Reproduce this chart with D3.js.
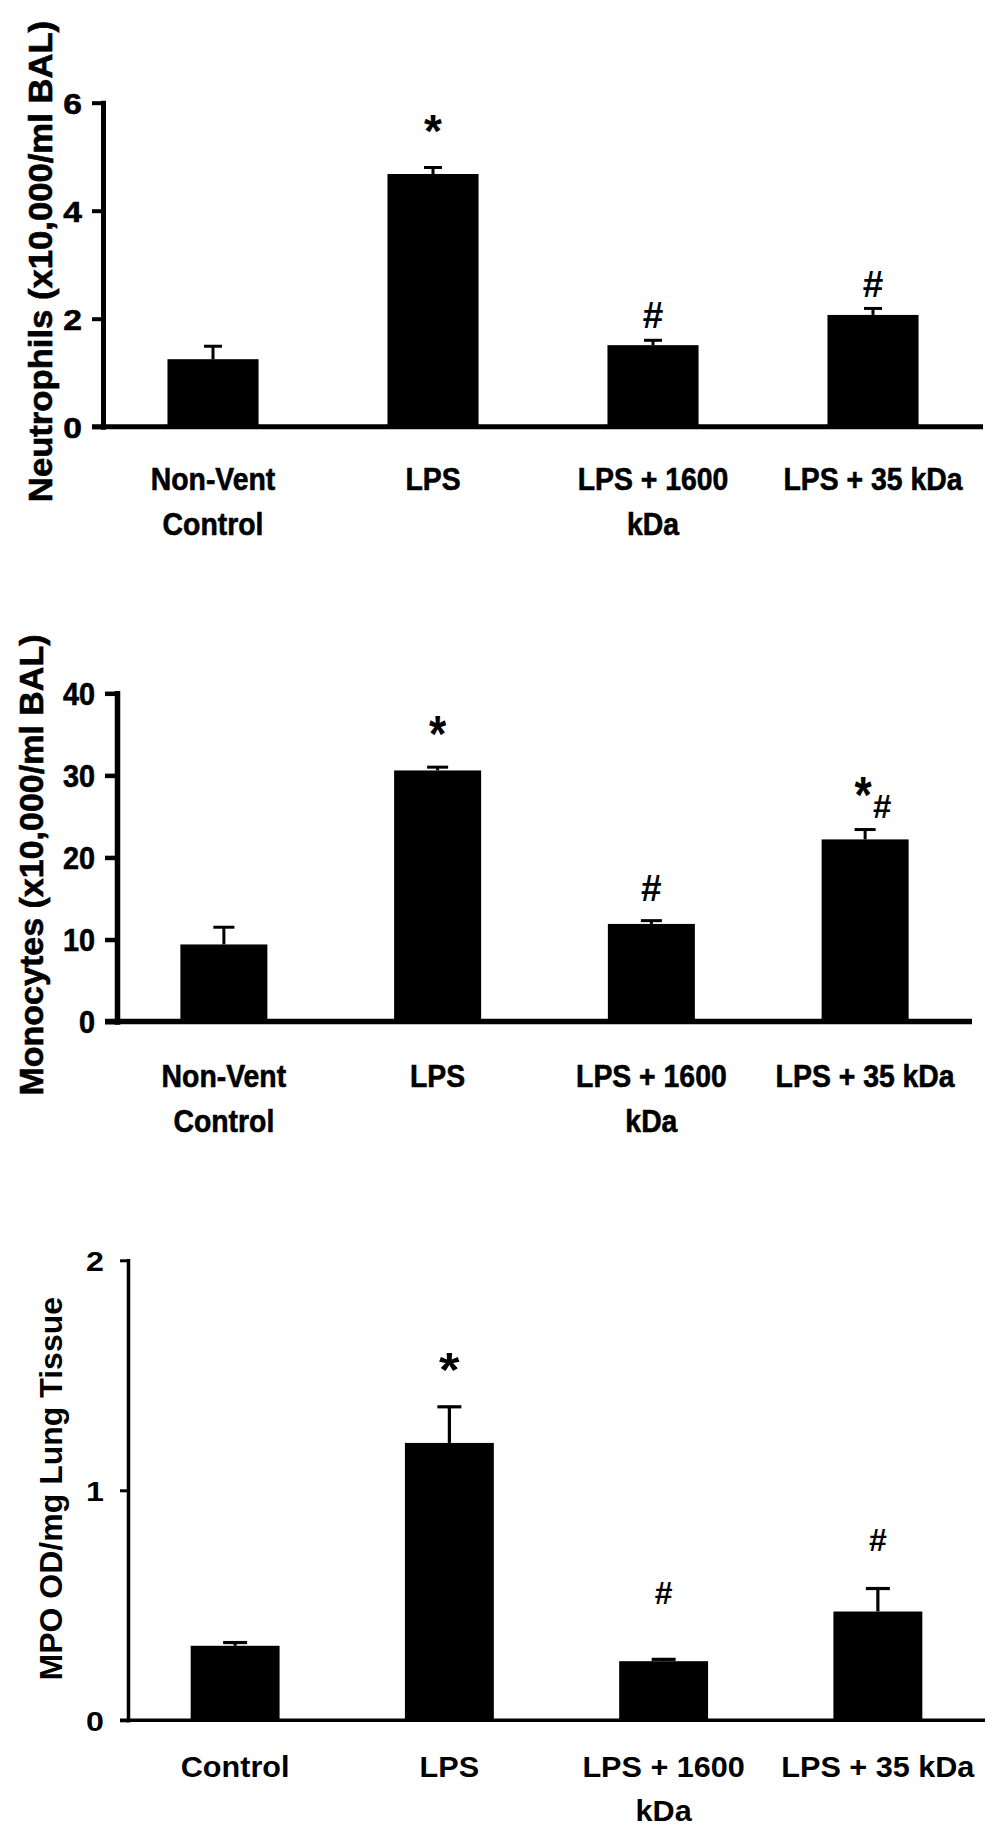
<!DOCTYPE html>
<html><head><meta charset="utf-8">
<script src="https://cdn.jsdelivr.net/npm/d3@7"></script>
<style>
html,body{margin:0;padding:0;background:#fff;}
svg{display:block;}
text{font-family:"Liberation Sans", Arial, Helvetica, sans-serif; font-weight:bold; fill:#000;}
</style>
</head><body>
<svg id="chart" width="1004" height="1839"></svg>
<script>
// ---------- data ----------
const categoriesA = [["Non-Vent","Control"],["LPS"],["LPS + 1600","kDa"],["LPS + 35 kDa"]];
const categoriesB = [["Control"],["LPS"],["LPS + 1600","kDa"],["LPS + 35 kDa"]];

const neutrophilMean  = [1.25, 4.68, 1.51, 2.07];
const neutrophilSEM   = [0.24, 0.12, 0.09, 0.12];
const neutrophilTicks = [0, 2, 4, 6];
const neutrophilMarks = ["", "*", "#", "#"];

const monocyteMean  = [9.4, 30.6, 11.9, 22.2];
const monocyteSEM   = [2.1, 0.4, 0.4, 1.2];
const monocyteTicks = [0, 10, 20, 30, 40];
const monocyteMarks = ["", "*", "#", "*#"];

const mpoMean  = [0.324, 1.206, 0.257, 0.473];
const mpoSEM   = [0.014, 0.157, 0.008, 0.10];
const mpoTicks = [0, 1, 2];
const mpoMarks = ["", "*", "#", "#"];

const titles = ["Neutrophils (x10,000/ml BAL)", "Monocytes (x10,000/ml BAL)", "MPO OD/mg Lung Tissue"];

// ---------- layout / style ----------
const panels = [
  {cats: categoriesA, mean: neutrophilMean, sem: neutrophilSEM, ticks: neutrophilTicks, marks: neutrophilMarks, title: titles[0],
   x0: 103, x1: 983, yB: 426.7, yT: 102.7, pad: 0.586,
   axisW: 5, tickLen: 11, tickW: 4, tickFont: 30, tickSx: 1.12, tickGap: 10,
   labFont: 32, labSx: 0.887, labDy: [63, 108], textStroke: 0.6,
   errW: 3, capW: 18,
   titleX: 52, titleY: 261.5, titleFont: 33, titleSx: 1.05,
   starFont: 46, starSx: 1.0, hashFont: 37, hashSx: 1.0, gaps: [0, 21, 12, 11]},
  {cats: categoriesA, mean: monocyteMean, sem: monocyteSEM, ticks: monocyteTicks, marks: monocyteMarks, title: titles[1],
   x0: 117, x1: 972, yB: 1021.6, yT: 693.3, pad: 0.593,
   axisW: 5.5, tickLen: 12, tickW: 4.5, tickFont: 31, tickSx: 0.93, tickGap: 10,
   labFont: 32, labSx: 0.887, labDy: [65, 110], textStroke: 0.6,
   errW: 3, capW: 21,
   titleX: 43, titleY: 865, titleFont: 34, titleSx: 1.0,
   starFont: 52, starSx: 0.85, hashFont: 37, hashSx: 1.0, gaps: [0, 15, 20, 17]},
  {cats: categoriesB, mean: mpoMean, sem: mpoSEM, ticks: mpoTicks, marks: mpoMarks, title: titles[2],
   x0: 128, x1: 985, yB: 1720.3, yT: 1260.3, pad: 0.585,
   axisW: 3.5, tickLen: 8, tickW: 3, tickFont: 28, tickSx: 1.15, tickGap: 16,
   labFont: 28.6, labSx: 1.07, labDy: [56.7, 100.2], textStroke: 0,
   errW: 3.2, capW: 24,
   titleX: 62, titleY: 1488.7, titleFont: 32, titleSx: 1.0,
   starFont: 48, starSx: 1.1, hashFont: 32, hashSx: 1.0, gaps: [0, 21, 55, 38]}
];

const svg = d3.select("#chart");

panels.forEach(p => {
  const g = svg.append("g");
  const idx = d3.range(p.cats.length);
  const x = d3.scaleBand().domain(idx).range([p.x0, p.x1]).paddingInner(p.pad).paddingOuter(p.pad / 2);
  const y = d3.scaleLinear().domain([d3.min(p.ticks), d3.max(p.ticks)]).range([p.yB, p.yT]);
  const stroke = sel => { if (p.textStroke) sel.attr("stroke", "#000").attr("stroke-width", p.textStroke); return sel; };

  // bars
  g.selectAll("rect.bar").data(idx).join("rect")
    .attr("x", i => x(i)).attr("width", x.bandwidth())
    .attr("y", i => y(p.mean[i])).attr("height", i => y(0) - y(p.mean[i]))
    .attr("fill", "#000");

  // error bars (upper only)
  g.selectAll("line.err").data(idx).join("line")
    .attr("x1", i => x(i) + x.bandwidth() / 2).attr("x2", i => x(i) + x.bandwidth() / 2)
    .attr("y1", i => y(p.mean[i])).attr("y2", i => y(p.mean[i] + p.sem[i]))
    .attr("stroke", "#000").attr("stroke-width", p.errW);
  g.selectAll("line.cap").data(idx).join("line")
    .attr("x1", i => x(i) + x.bandwidth() / 2 - p.capW / 2).attr("x2", i => x(i) + x.bandwidth() / 2 + p.capW / 2)
    .attr("y1", i => y(p.mean[i] + p.sem[i])).attr("y2", i => y(p.mean[i] + p.sem[i]))
    .attr("stroke", "#000").attr("stroke-width", p.errW);

  // y axis
  const ax = g.append("g").attr("transform", `translate(${p.x0},0)`)
    .call(d3.axisLeft(y).tickValues(p.ticks).tickSize(p.tickLen).tickSizeOuter(0).tickPadding(p.tickGap).tickFormat(d3.format("d")));
  ax.select(".domain").attr("stroke", "#000").attr("stroke-width", p.axisW).attr("stroke-linecap", "square");
  ax.selectAll(".tick line").attr("stroke", "#000").attr("stroke-width", p.tickW);
  stroke(ax.selectAll(".tick text")
    .attr("font-size", p.tickFont).attr("font-family", null)
    .attr("x", -(p.tickLen + p.tickGap) / p.tickSx).attr("dy", "0.36em")
    .attr("transform", `scale(${p.tickSx},1)`));

  // x axis line
  g.append("line")
    .attr("x1", p.x0 - p.tickLen).attr("x2", x.range()[1])
    .attr("y1", y(0)).attr("y2", y(0))
    .attr("stroke", "#000").attr("stroke-width", p.axisW);

  // category labels
  idx.forEach(i => {
    const cx = x(i) + x.bandwidth() / 2;
    p.cats[i].forEach((line, k) => {
      stroke(g.append("text")
        .attr("transform", `translate(${cx},${y(0) + p.labDy[k]}) scale(${p.labSx},1)`)
        .attr("text-anchor", "middle").attr("font-size", p.labFont)
        .text(line));
    });
  });

  // y title
  stroke(g.append("text")
    .attr("transform", `translate(${p.titleX},${p.titleY}) rotate(-90) scale(${p.titleSx},1)`)
    .attr("text-anchor", "middle").attr("font-size", p.titleFont)
    .text(p.title));

  // significance marks
  idx.forEach(i => {
    const m = p.marks[i];
    if (!m) return;
    const cx = x(i) + x.bandwidth() / 2;
    const top = y(p.mean[i] + p.sem[i]) - p.gaps[i];
    if (m === "*") {
      g.append("text").attr("transform", `translate(${cx},${top}) scale(${p.starSx},1)`)
        .attr("text-anchor", "middle").attr("font-size", p.starFont).text("*");
    } else if (m === "#") {
      g.append("text").attr("transform", `translate(${cx},${top}) scale(${p.hashSx},1)`)
        .attr("text-anchor", "middle").attr("font-size", p.hashFont).text("#");
    } else if (m === "*#") {
      g.append("text").attr("transform", `translate(${cx - 2},${top}) scale(${p.starSx},1)`)
        .attr("text-anchor", "middle").attr("font-size", p.starFont).text("*");
      g.append("text").attr("transform", `translate(${cx + 17},${top + 5}) scale(${p.hashSx},1)`)
        .attr("text-anchor", "middle").attr("font-size", 33).text("#");
    }
  });
});
</script>
</body></html>
